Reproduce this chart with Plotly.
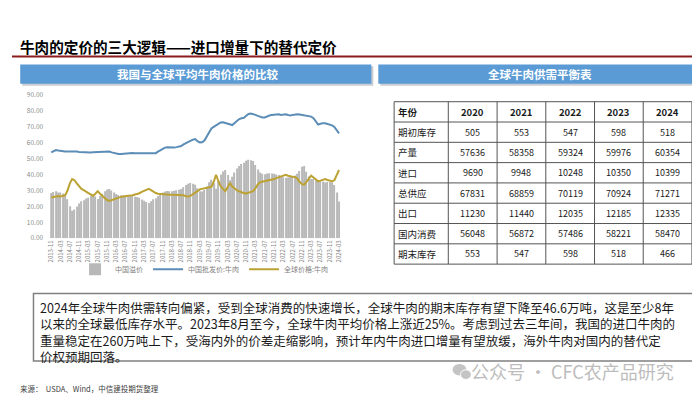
import pandas as pd
import plotly.graph_objects as go

# ---------------- data ----------------
months = [p.strftime("%Y-%m") for p in pd.period_range("2013-11", "2024-03", freq="M")]

cn_wholesale = [
    54.0, 54.8, 55.5, 55.2, 54.9, 54.7, 54.6, 54.5, 54.6, 54.4,
    54.5, 54.5, 54.3, 54.2, 54.0, 54.0, 53.9, 54.0, 54.1, 54.2,
    54.3, 54.5, 54.6, 54.5, 54.6, 54.5, 54.0, 53.5, 53.2, 53.0,
    53.0, 53.2, 53.3, 53.2, 53.4, 53.6, 53.5, 53.5, 53.7, 53.6,
    53.5, 53.4, 53.3, 53.4, 53.5, 53.5, 54.5, 55.5, 56.3, 57.0,
    57.2, 57.0, 56.8, 57.0, 57.3, 57.5, 58.0, 59.0, 59.8, 60.5,
    61.3, 62.0, 62.4, 61.0, 60.3, 60.4, 61.5, 64.0, 67.0, 69.0,
    70.0, 71.0, 72.0, 72.8, 73.0, 72.5, 71.8, 71.3, 71.2, 72.5,
    74.0, 75.0, 75.5, 75.8, 77.0, 78.2, 78.5, 78.2, 77.6, 77.0,
    76.5, 76.0, 76.0, 76.8, 77.2, 77.5, 77.7, 77.8, 78.0, 77.6,
    77.8, 78.0, 77.5, 77.3, 77.6, 78.0, 78.0, 77.8, 77.6, 77.5,
    77.3, 77.0, 76.5, 75.5, 73.5, 71.5, 72.0, 72.4, 72.3, 72.0,
    71.6, 71.0, 70.0, 68.3, 66.0,
]

global_price = [
    25.6, 25.8, 26.0, 26.5, 26.2, 26.6, 27.0, 30.0, 34.5, 37.2,
    36.5, 34.5, 32.5, 31.0, 30.2, 29.0, 28.4, 27.5, 26.6, 28.0,
    29.6, 28.0, 26.6, 25.0, 24.0, 23.5, 24.0, 24.8, 25.4, 25.8,
    26.0, 26.3, 26.6, 26.5, 26.8, 27.0, 27.4, 27.6, 28.3, 29.2,
    30.0, 30.7, 31.1, 30.2, 29.0, 28.4, 28.0, 27.8, 27.6, 27.6,
    27.5, 27.4, 27.3, 27.2, 27.1, 27.0, 27.0, 27.0, 26.4, 26.2,
    26.6, 27.8, 28.8, 29.6, 30.7, 31.0, 31.2, 31.5, 31.8, 32.3,
    35.5, 39.9, 36.0, 32.7, 31.0, 29.6, 32.0, 34.8, 32.5, 31.1,
    30.2, 29.5, 28.8, 28.3, 28.2, 28.8, 29.4, 29.6, 31.5, 33.8,
    35.2, 35.5, 35.8, 36.1, 36.4, 36.8, 37.2, 37.8, 38.3, 38.9,
    39.5, 39.9, 39.3, 38.8, 38.6, 38.5, 37.5, 35.5, 34.0, 33.7,
    35.5, 38.0, 39.3, 38.2, 37.0, 35.8, 36.2, 36.8, 37.2, 36.6,
    36.2, 35.8, 36.5, 39.5, 42.9,
]

cn_premium = [
    28.4, 29.0, 29.5, 28.7, 28.7, 28.1, 27.6, 24.5, 20.1, 17.2,
    18.0, 20.0, 21.8, 23.2, 23.8, 25.0, 25.5, 26.5, 27.5, 26.2,
    24.7, 26.5, 28.0, 29.5, 30.6, 31.0, 30.0, 28.7, 27.8, 27.2,
    27.0, 26.9, 26.7, 26.7, 26.6, 26.6, 26.1, 25.9, 25.4, 24.4,
    23.5, 22.7, 22.2, 23.2, 24.5, 25.1, 26.5, 27.7, 28.7, 29.4,
    29.7, 29.6, 29.5, 29.8, 30.2, 30.5, 31.0, 32.0, 33.4, 34.3,
    34.7, 34.2, 33.6, 31.4, 29.6, 29.4, 30.3, 32.5, 35.2, 36.7,
    34.5, 31.1, 36.0, 40.1, 42.0, 42.9, 39.8, 36.5, 38.7, 41.4,
    43.8, 45.5, 46.7, 47.5, 48.8, 49.4, 49.1, 48.6, 46.1, 43.2,
    41.3, 40.5, 40.2, 40.7, 40.8, 40.7, 40.5, 40.0, 39.7, 38.7,
    38.3, 38.1, 38.2, 38.5, 39.0, 39.5, 40.5, 42.3, 45.0, 45.5,
    41.8, 39.0, 37.2, 37.3, 36.5, 35.7, 35.8, 35.6, 35.1, 35.4,
    35.4, 35.2, 33.5, 28.8, 23.1,
]

y_ticks = [0, 10, 20, 30, 40, 50, 60, 70, 80, 90]

table_header = ["年份", "2020", "2021", "2022", "2023", "2024"]
row_labels = ["期初库存", "产量", "进口", "总供应", "出口", "国内消费", "期末库存"]
y2020 = [505, 57636, 9690, 67831, 11230, 56048, 553]
y2021 = [553, 58358, 9948, 68859, 11440, 56872, 547]
y2022 = [547, 59324, 10248, 70119, 12035, 57486, 598]
y2023 = [598, 59976, 10350, 70924, 12185, 58221, 518]
y2024 = [518, 60354, 10399, 71271, 12335, 58470, 466]

# ---------------- helpers ----------------
W, H = 700, 394
FONT = "Noto Sans CJK SC"


def px(x):
    return x / W


def py(y):
    return 1 - y / H


fig = go.Figure()

fig.add_trace(go.Bar(x=months, y=cn_premium, name="中国溢价",
                     marker=dict(color="#B8B8B8", line=dict(width=0))))
fig.add_trace(go.Scatter(x=months, y=cn_wholesale, name="中国批发价:牛肉", mode="lines",
                         line=dict(color="#5B8DB6", width=2)))
fig.add_trace(go.Scatter(x=months, y=global_price, name="全球价格:牛肉", mode="lines",
                         line=dict(color="#BCA233", width=2)))

fig.update_layout(
    width=W, height=H,
    margin=dict(l=0, r=0, t=0, b=0),
    paper_bgcolor="white", plot_bgcolor="white",
    font=dict(family=FONT, color="#333333"),
    bargap=0.55,
    showlegend=True,
    legend=dict(orientation="h", x=px(194), xanchor="center", y=py(262), yanchor="middle",
                font=dict(size=7, color="#7F7F7F"), itemwidth=30,
                bgcolor="rgba(0,0,0,0)", traceorder="normal"),
    xaxis=dict(domain=[px(38.5), px(331.5)], type="category",
               tickvals=months[::4], ticktext=months[::4], tickangle=-90,
               tickfont=dict(size=6, color="#7F7F7F"),
               showgrid=False, showline=False, zeroline=False, ticks=""),
    yaxis=dict(domain=[py(230), py(83.3)], range=[0, 90], tickvals=y_ticks,
               tickformat=".2f", tickfont=dict(size=6.5, color="#8C8C8C"),
               showgrid=False, showline=False, zeroline=False, ticks="",
               ticklabelstandoff=6),
)

shapes = []
annotations = []

# title and red rule
annotations.append(dict(x=px(6.5), y=py(33), xref="paper", yref="paper", xanchor="left", yanchor="middle",
                        text="<b>牛肉的定价的三大逻辑——进口增量下的替代定价</b>", showarrow=False,
                        font=dict(family=FONT, size=14.6, color="#000000")))
shapes.append(dict(type="line", xref="paper", yref="paper", x0=0, x1=1, y0=py(43.5), y1=py(43.5),
                   line=dict(color="#8B1C1C", width=2)))

# blue header boxes
for (x0, x1, label) in [(8.3, 363, "我国与全球平均牛肉价格的比较"), (370, 693, "全球牛肉供需平衡表")]:
    shapes.append(dict(type="rect", xref="paper", yref="paper", x0=px(x0 + 2), x1=px(x1 + 2),
                       y0=py(73.5), y1=py(53.5), line=dict(width=0), fillcolor="#C9CDD3", layer="below"))
    shapes.append(dict(type="rect", xref="paper", yref="paper", x0=px(x0), x1=px(x1),
                       y0=py(71.5), y1=py(51.7), line=dict(width=0), fillcolor="#5B9BD5", layer="below"))
    annotations.append(dict(x=px((x0 + x1) / 2 + 2), y=py(61.6), xref="paper", yref="paper",
                            xanchor="center", yanchor="middle", text="<b>%s</b>" % label, showarrow=False,
                            font=dict(family=FONT, size=11.5, color="white")))

# ---------------- supply/demand table (grid + cell texts from the arrays) ----------------
col_edges = [386, 440.7, 490, 539.2, 588.4, 637.6, 686.8]
tab_top, row_h = 90, 20.83
table_rows = [table_header] + [
    [lab, str(a), str(b), str(c), str(d), str(e)]
    for lab, a, b, c, d, e in zip(row_labels, y2020, y2021, y2022, y2023, y2024)
]
n_rows = len(table_rows)
tab_bottom = tab_top + n_rows * row_h
for i in range(n_rows + 1):
    yy = tab_top + i * row_h
    shapes.append(dict(type="line", xref="paper", yref="paper", x0=px(col_edges[0]), x1=px(col_edges[-1]),
                       y0=py(yy), y1=py(yy), line=dict(color="#555555", width=1)))
for xx in col_edges:
    shapes.append(dict(type="line", xref="paper", yref="paper", x0=px(xx), x1=px(xx),
                       y0=py(tab_top), y1=py(tab_bottom), line=dict(color="#555555", width=1)))
for r, row in enumerate(table_rows):
    yc = tab_top + (r + 0.5) * row_h
    for c, val in enumerate(row):
        if c == 0:
            xpos, anchor = col_edges[0] + 2, "left"
        else:
            xpos, anchor = (col_edges[c] + col_edges[c + 1]) / 2, "center"
        txt = "<b>%s</b>" % val if r == 0 else val
        annotations.append(dict(x=px(xpos), y=py(yc), xref="paper", yref="paper", xanchor=anchor,
                                yanchor="middle", text=txt, showarrow=False,
                                font=dict(family=FONT, size=9.5 if (r == 0 or c == 0) else 9,
                                          color="#1A1A1A")))

# text box
shapes.append(dict(type="rect", xref="paper", yref="paper", x0=px(21.7), x1=px(693), y0=py(356), y1=py(286.7),
                   line=dict(color="#808080", width=1.5), fillcolor="rgba(0,0,0,0)"))
lines = [
    "2024年全球牛肉供需转向偏紧，受到全球消费的快速增长，全球牛肉的期末库存有望下降至46.6万吨，这是至少8年",
    "以来的全球最低库存水平。2023年8月至今，全球牛肉平均价格上涨近25%。考虑到过去三年间，我国的进口牛肉的",
    "重量稳定在260万吨上下，受海内外的价差走缩影响，预计年内牛肉进口增量有望放缓，海外牛肉对国内的替代定",
    "价权预期回落。",
]
annotations.append(dict(x=px(26.5), y=py(289), xref="paper", yref="paper",
                        xanchor="left", yanchor="top", align="left", text="<br>".join(lines), showarrow=False,
                        font=dict(family=FONT, size=12.5, color="#1A1A1A")))

# watermark
shapes.append(dict(type="circle", xref="paper", yref="paper", x0=px(445), x1=px(459), y0=py(371), y1=py(359),
                   line=dict(width=0), fillcolor="#C4C4C4"))
shapes.append(dict(type="circle", xref="paper", yref="paper", x0=px(453), x1=px(464), y0=py(375), y1=py(365),
                   line=dict(color="white", width=1), fillcolor="#C4C4C4"))
annotations.append(dict(x=px(462), y=py(366.5), xref="paper", yref="paper", xanchor="left", yanchor="middle",
                        text="公众号\u00a0·\u00a0CFC农产品研究", showarrow=False,
                        font=dict(family=FONT, size=18, color="#BDBDBD")))

# source
annotations.append(dict(x=px(6.5), y=py(384), xref="paper", yref="paper", xanchor="left", yanchor="middle",
                        text="来源：\u00a0\u00a0USDA、Wind，中信建投期货整理", showarrow=False,
                        font=dict(family=FONT, size=7.5, color="#404040")))

fig.update_layout(shapes=shapes, annotations=annotations)

fig.write_html("out.html")
